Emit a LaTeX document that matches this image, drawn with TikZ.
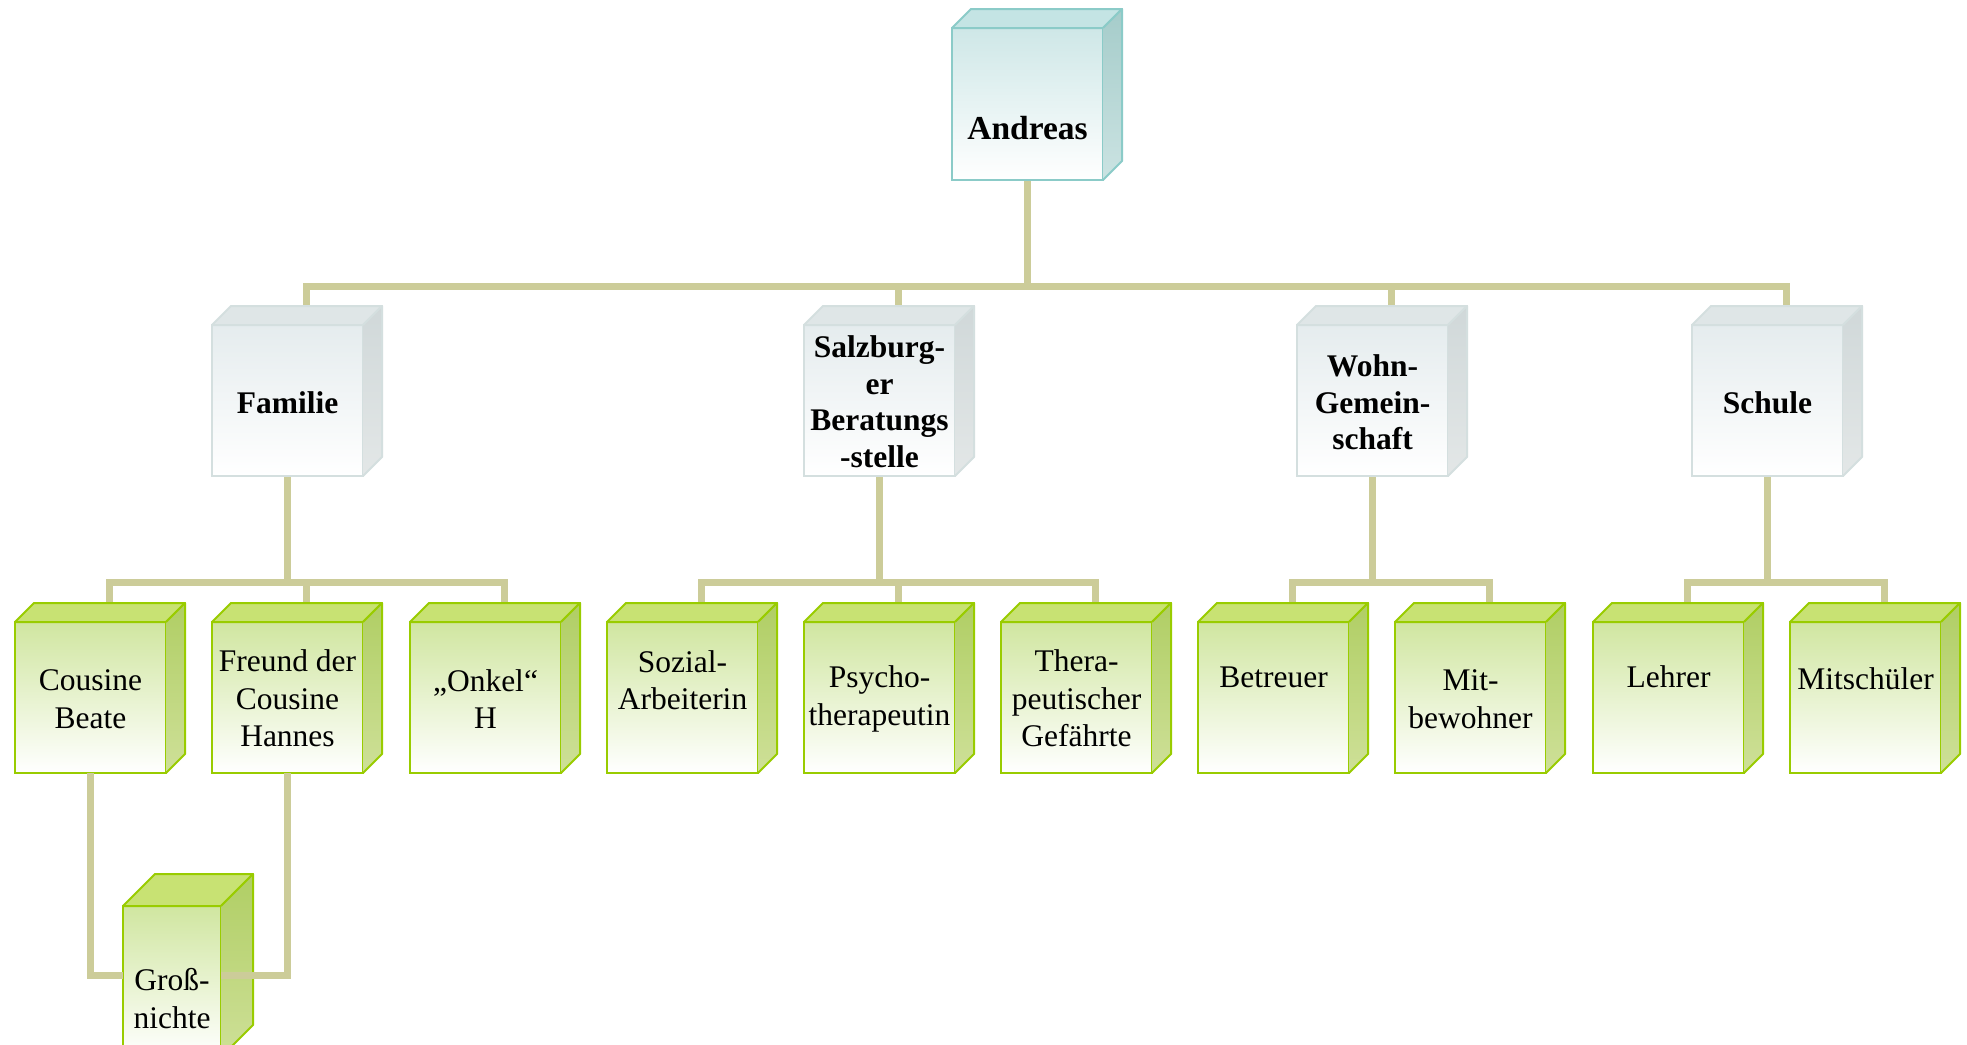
\documentclass[tikz,border=0pt]{standalone}
\usepackage{fontspec}
\setmainfont{Liberation Serif}
\usetikzlibrary{calc,backgrounds}
% teal (root)
\definecolor{cAB}{RGB}{139,203,200}
\definecolor{cAF}{RGB}{206,231,231}
\definecolor{cAT}{RGB}{196,228,228}
\definecolor{cAS}{RGB}{165,204,202}
\definecolor{cAs}{RGB}{203,227,226}
% grey (level 2)
\definecolor{cGB}{RGB}{212,223,223}
\definecolor{cGF}{RGB}{229,236,238}
\definecolor{cGT}{RGB}{223,230,231}
\definecolor{cGS}{RGB}{208,216,217}
\definecolor{cGs}{RGB}{227,231,231}
% green (level 3)
\definecolor{cLB}{RGB}{153,204,0}
\definecolor{cLF}{RGB}{208,230,160}
\definecolor{cLT}{RGB}{200,226,115}
\definecolor{cLS}{RGB}{176,206,100}
\definecolor{cLs}{RGB}{206,224,152}
\definecolor{conncol}{RGB}{204,204,153}
\newcommand{\mkcube}[7]{%
  \node[draw=#7B, line width=2pt, top color=#7F, bottom color=white,
        minimum width=#4pt, minimum height=#5pt, inner sep=0pt, outer sep=0pt,
        anchor=north west] (#1) at (#2,#3) {};
  \filldraw[draw=#7B, line width=2pt, line join=round, fill=#7T]
    (#1.north west) -- ++(#6,-#6) -- ($(#1.north east)+(#6,-#6)$) -- (#1.north east) -- cycle;
  \shade[top color=#7S, bottom color=#7s]
    (#1.north east) -- ++(#6,-#6) -- ($(#1.south east)+(#6,-#6)$) -- (#1.south east) -- cycle;
  \draw[draw=#7B, line width=2pt, line join=round]
    (#1.north east) -- ++(#6,-#6) -- ($(#1.south east)+(#6,-#6)$) -- (#1.south east);
}
\tikzset{
  conn/.style={draw=conncol, line width=7pt},
  lab/.style={align=center, inner sep=0pt, font=\fontsize{31.5}{37.5}\selectfont},
  labb/.style={align=center, inner sep=0pt, font=\fontsize{31.5}{36.5}\selectfont\bfseries},
}
\begin{document}
\begin{tikzpicture}[x=1pt,y=-1pt]
\useasboundingbox (0,0) rectangle (1967,1044);
\clip (0,0) rectangle (1967,1044);
% root
\mkcube{and}{952}{28}{151}{152}{19}{cA}
% level 2
\mkcube{fam}{212}{325}{151}{151}{19}{cG}
\mkcube{sbs}{804}{325}{151}{151}{19}{cG}
\mkcube{wg}{1297}{325}{151}{151}{19}{cG}
\mkcube{sch}{1692}{325}{151}{151}{19}{cG}
% level 3
\mkcube{cb}{15}{622}{151}{151}{19}{cL}
\mkcube{fr}{212}{622}{151}{151}{19}{cL}
\mkcube{on}{410}{622}{151}{151}{19}{cL}
\mkcube{sa}{607}{622}{151}{151}{19}{cL}
\mkcube{pt}{804}{622}{151}{151}{19}{cL}
\mkcube{tg}{1001}{622}{151}{151}{19}{cL}
\mkcube{be}{1198}{622}{151}{151}{19}{cL}
\mkcube{mb}{1395}{622}{151}{151}{19}{cL}
\mkcube{le}{1593}{622}{151}{151}{19}{cL}
\mkcube{ms}{1790}{622}{151}{151}{19}{cL}
% level 4
\mkcube{gn}{123}{906}{98}{151}{32}{cL}
% labels
\node[labb, font=\fontsize{33.5}{40}\selectfont\bfseries] (tand) at (1027.5,128) {Andreas};
\node[labb] (tfam) at (287.5,403) {Familie};
\node[labb] (tsbs) at (879.5,401.5) {Salzburg-\\er\\Beratungs\\-stelle};
\node[labb] (twg) at (1372.5,402.5) {Wohn-\\Gemein-\\schaft};
\node[labb] (tsch) at (1767.5,403) {Schule};
\node[lab] (tcb) at (90.5,699) {Cousine\\Beate};
\node[lab] (tfr) at (287.5,698.5) {Freund der\\Cousine\\Hannes};
\node[lab] (ton) at (485.5,699) {„Onkel“\\H};
\node[lab] (tsa) at (682.5,680) {Sozial-\\Arbeiterin};
\node[lab] (tpt) at (879.5,699) {Psycho-\\therapeutin};
\node[lab] (ttg) at (1076.5,698.5) {Thera-\\peutischer\\Gefährte};
\node[lab] (tbe) at (1273.5,677) {Betreuer};
\node[lab] (tmb) at (1470.5,699) {Mit-\\bewohner};
\node[lab] (tle) at (1668.5,677) {Lehrer};
\node[lab] (tms) at (1865.5,679) {Mitschüler};
\node[lab] (tgn) at (172,998.5) {Groß-\\nichte};
% connectors
\begin{pgfonlayer}{background}
\fill[white] (0,0) rectangle (1967,1044);
\foreach \c in {fam,sbs,wg,sch}
  \draw[conn] (and.south) -- ++(0,106) -| ([xshift=19pt,yshift=19pt]\c.north);
\foreach \c in {cb,fr,on}
  \draw[conn] (fam.south) -- ++(0,106) -| ([xshift=19pt,yshift=19pt]\c.north);
\foreach \c in {sa,pt,tg}
  \draw[conn] (sbs.south) -- ++(0,106) -| ([xshift=19pt,yshift=19pt]\c.north);
\foreach \c in {be,mb}
  \draw[conn] (wg.south) -- ++(0,106) -| ([xshift=19pt,yshift=19pt]\c.north);
\foreach \c in {le,ms}
  \draw[conn] (sch.south) -- ++(0,106) -| ([xshift=19pt,yshift=19pt]\c.north);
\end{pgfonlayer}
\draw[conn] (cb.south) |- ([yshift=6.5pt]gn.west);
\draw[conn] (fr.south) |- ([yshift=6.5pt]gn.east);
\end{tikzpicture}
\end{document}
